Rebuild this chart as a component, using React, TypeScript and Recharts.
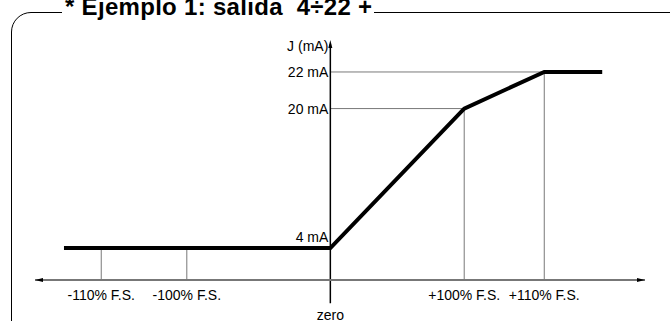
import React from 'react';
import { LineChart, Line, XAxis, YAxis, ReferenceLine, ReferenceDot } from 'recharts';

// schematic positions along the input axis (the drawing is not to scale)
const inputLabels = ['-110% F.S.', '-100% F.S.', 'zero', '+100% F.S.', '+110% F.S.'];
const inputPos = [-166, -104, 0, 97, 155];
const xStart = -193;
const xEnd = 197;
const xDomain: [number, number] = [-214, 228];

// output levels: label and drawn height
const outputLabels = ['4 mA', '20 mA', '22 mA'];
const outputLevel = [3.73, 20, 24.27];
const yDomain: [number, number] = [0, 28];

const transfer = [
  { x: xStart, y: outputLevel[0] },
  { x: inputPos[2], y: outputLevel[0] },
  { x: inputPos[3], y: outputLevel[1] },
  { x: inputPos[4], y: outputLevel[2] },
  { x: xEnd, y: outputLevel[2] },
];

const FONT = '"Liberation Sans", Arial, sans-serif';
const thin = '#555';

const Tick = (props: any) => {
  const { x, y, payload } = props;
  const i = inputPos.indexOf(payload.value);
  const label = inputLabels[i];
  const extra = label === 'zero' ? 20 : 0;
  return (
    <text x={x} y={y + extra} dy="0.71em" textAnchor="middle" fontSize={14} fontFamily={FONT} fill="#000">
      {label}
    </text>
  );
};

const leftLabel = (text: string, dy = 0) => (p: any) => (
  <text x={p.cx - 2} y={p.cy + dy} textAnchor="end" dominantBaseline="central" fontSize={14} fontFamily={FONT} fill="#000">
    {text}
  </text>
);

const arrow = (dir: 'left' | 'right' | 'up') => (p: any) => {
  const { cx, cy } = p;
  let pts = '';
  if (dir === 'left') pts = `${cx},${cy} ${cx + 8},${cy - 2} ${cx + 8},${cy + 2}`;
  if (dir === 'right') pts = `${cx},${cy} ${cx - 8},${cy - 2} ${cx - 8},${cy + 2}`;
  if (dir === 'up') pts = `${cx},${cy} ${cx - 2},${cy + 8} ${cx + 2},${cy + 8}`;
  return <polygon points={pts} fill="#000" />;
};

export default function App() {
  return (
    <div style={{ position: 'absolute', left: 0, top: 0, width: 670, height: 321, overflow: 'hidden', background: '#fff' }}>
      <div
        style={{
          position: 'absolute', left: 11, top: 12, width: 720, height: 400,
          border: '1px solid #000', borderTopLeftRadius: 20, boxSizing: 'border-box',
        }}
      />
      <div
        style={{
          position: 'absolute', left: 62, top: -5, padding: '0 2px 0 3px', background: '#fff',
          fontFamily: FONT, fontWeight: 'bold', fontSize: 24, letterSpacing: 0.3,
          whiteSpace: 'pre', lineHeight: '24px',
        }}
      >
        {'* Ejemplo 1: salida  4÷22 +'}
      </div>
      <LineChart
        width={670}
        height={321}
        data={transfer}
        margin={{ top: 40, right: 25, bottom: 11, left: 35 }}
        style={{ position: 'absolute', left: 0, top: 0 }}
      >
        <XAxis
          type="number"
          dataKey="x"
          domain={xDomain}
          ticks={inputPos}
          tick={<Tick />}
          tickLine={false}
          tickMargin={4}
          height={30}
          axisLine={{ stroke: '#777', strokeWidth: 2 }}
          interval={0}
          allowDataOverflow
        />
        <YAxis type="number" domain={yDomain} hide allowDataOverflow />

        {/* guide lines */}
        <ReferenceLine segment={[{ x: inputPos[0], y: outputLevel[0] }, { x: inputPos[0], y: 0 }]} stroke={thin} strokeWidth={0.8} />
        <ReferenceLine segment={[{ x: inputPos[1], y: outputLevel[0] }, { x: inputPos[1], y: 0 }]} stroke={thin} strokeWidth={0.8} />
        <ReferenceLine segment={[{ x: inputPos[3], y: outputLevel[1] }, { x: inputPos[3], y: 0 }]} stroke={thin} strokeWidth={0.8} />
        <ReferenceLine segment={[{ x: inputPos[4], y: outputLevel[2] }, { x: inputPos[4], y: 0 }]} stroke={thin} strokeWidth={0.8} />
        <ReferenceLine segment={[{ x: 0, y: outputLevel[1] }, { x: inputPos[3], y: outputLevel[1] }]} stroke={thin} strokeWidth={0.8} />
        <ReferenceLine segment={[{ x: 0, y: outputLevel[2] }, { x: inputPos[4], y: outputLevel[2] }]} stroke={thin} strokeWidth={0.8} />

        {/* vertical axis through zero */}
        <ReferenceLine
          segment={[{ x: 0, y: yDomain[1] - 0.5 }, { x: 0, y: -2.7 }]}
          stroke="#000"
          strokeWidth={1.5}
          ifOverflow="visible"
        />

        <Line
          type="linear"
          dataKey="y"
          stroke="#000"
          strokeWidth={4}
          dot={false}
          isAnimationActive={false}
        />

        <ReferenceDot x={xDomain[0]} y={0} r={0} shape={arrow('left')} ifOverflow="visible" />
        <ReferenceDot x={xDomain[1]} y={0} r={0} shape={arrow('right')} ifOverflow="visible" />
        <ReferenceDot x={0} y={yDomain[1]} r={0} shape={arrow('up')} ifOverflow="visible" />

        <ReferenceDot x={0} y={outputLevel[2]} r={0} shape={leftLabel(outputLabels[2])} ifOverflow="visible" />
        <ReferenceDot x={0} y={outputLevel[1]} r={0} shape={leftLabel(outputLabels[1])} ifOverflow="visible" />
        <ReferenceDot x={0} y={outputLevel[0]} r={0} shape={leftLabel(outputLabels[0], -11)} ifOverflow="visible" />
        <ReferenceDot x={0} y={yDomain[1]} r={0} shape={leftLabel('J (mA)', 6)} ifOverflow="visible" />
      </LineChart>
    </div>
  );
}
